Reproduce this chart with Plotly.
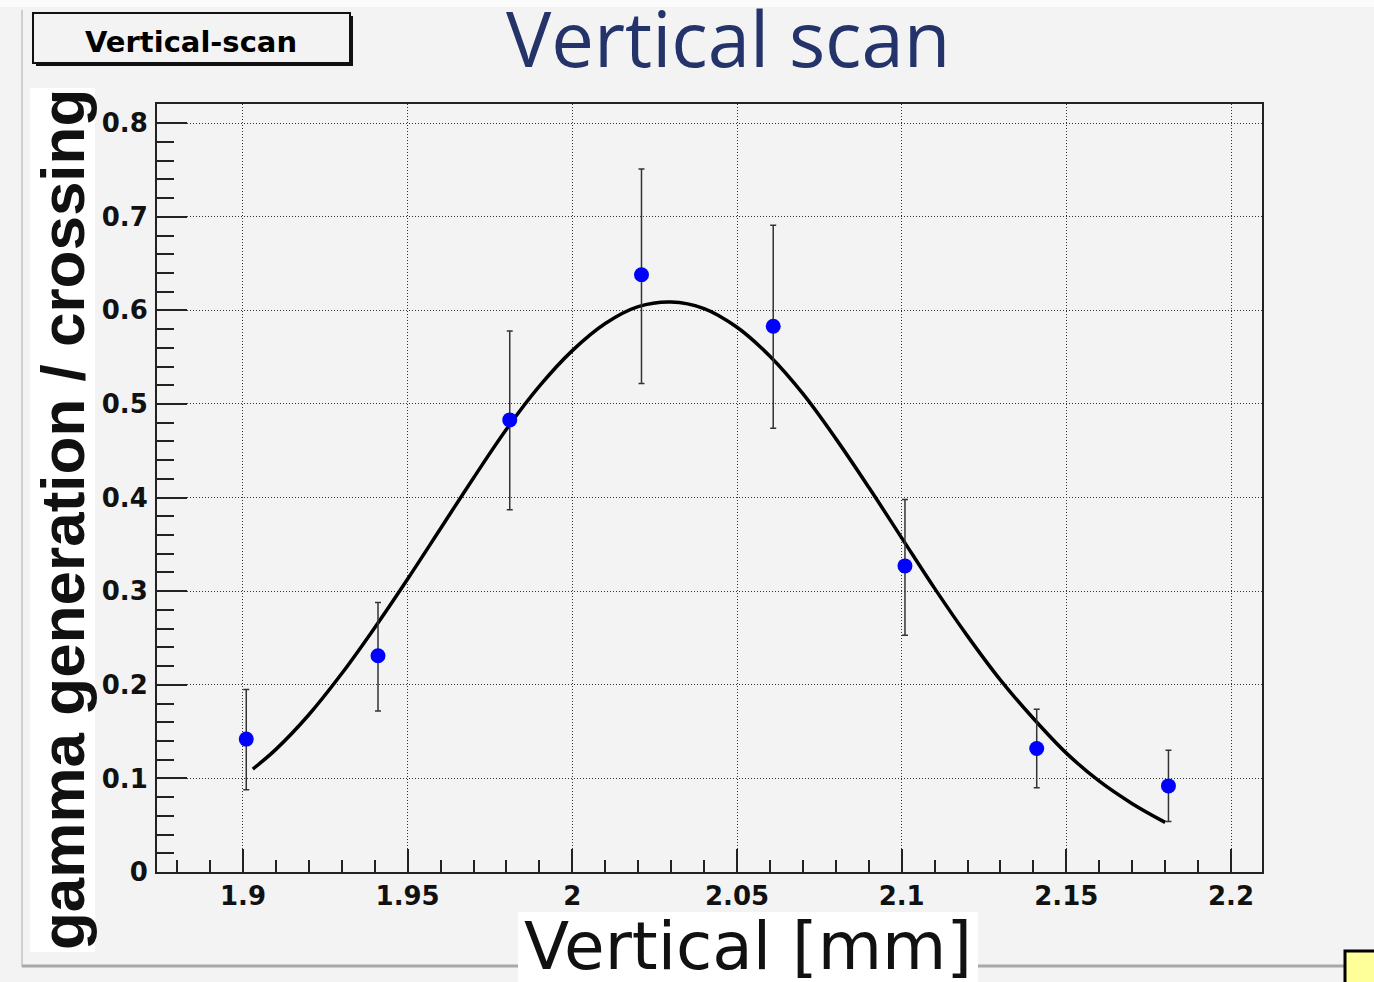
import plotly.graph_objects as go

# ---------------- data ----------------
x_pos = [1.901, 1.941, 1.981, 2.021, 2.061, 2.101, 2.141, 2.181]
gamma = [0.142, 0.231, 0.483, 0.638, 0.583, 0.327, 0.132, 0.092]
err_plus = [0.053, 0.057, 0.095, 0.113, 0.108, 0.071, 0.042, 0.038]
err_minus = [0.054, 0.059, 0.096, 0.116, 0.109, 0.074, 0.042, 0.038]

fit_x = [1.903, 1.91, 1.92, 1.93, 1.94, 1.95, 1.96, 1.97, 1.98, 1.99, 2.00,
         2.01, 2.02, 2.03, 2.04, 2.05, 2.06, 2.07, 2.08, 2.09, 2.10,
         2.11, 2.12, 2.13, 2.14, 2.15, 2.16, 2.17, 2.18]
fit_y = [0.110, 0.131, 0.168, 0.212, 0.261, 0.313, 0.367, 0.421, 0.473, 0.519, 0.557,
         0.586, 0.604, 0.609, 0.602, 0.582, 0.551, 0.511, 0.463, 0.411, 0.357,
         0.303, 0.252, 0.205, 0.164, 0.127, 0.097, 0.073, 0.053]

x_ticks = [1.9, 1.95, 2.0, 2.05, 2.1, 2.15, 2.2]
x_tick_labels = ["1.9", "1.95", "2", "2.05", "2.1", "2.15", "2.2"]
y_ticks = [0, 0.1, 0.2, 0.3, 0.4, 0.5, 0.6, 0.7, 0.8]
y_tick_labels = ["0", "0.1", "0.2", "0.3", "0.4", "0.5", "0.6", "0.7", "0.8"]

title_text = "Vertical scan"
box_text = "Vertical-scan"
x_title = "Vertical [mm]"
y_title = "gamma generation / crossing"

# ---------------- layout geometry ----------------
W, H = 1374, 982
L, R, T, B = 157, 1262, 104, 872
BG = "#f3f3f3"


def px(xp):
    return (xp - L) / (R - L)


def py(yp):
    return (B - yp) / (B - T)


fig = go.Figure()

fig.add_trace(go.Scatter(
    x=fit_x, y=fit_y, mode="lines", line=dict(color="black", width=3.5, shape="spline"),
    showlegend=False, hoverinfo="skip"))

fig.add_trace(go.Scatter(
    x=x_pos, y=gamma, mode="markers",
    marker=dict(color="#0000ff", size=15, line=dict(width=0)),
    error_y=dict(type="data", symmetric=False, array=err_plus, arrayminus=err_minus,
                 color="#333333", thickness=1.5, width=3),
    showlegend=False))

xtickfont = dict(family="DejaVu Sans", size=26, color="#111", weight="bold")
ytickfont = dict(family="DejaVu Sans", size=26, color="#111", weight="bold")
grid_dash = "1px,2px"

fig.update_xaxes(
    range=[1.8739, 2.2094], tickvals=x_ticks, ticktext=x_tick_labels,
    ticks="inside", ticklen=23, tickwidth=1.5, tickcolor="#222",
    minor=dict(ticks="inside", ticklen=12, tickwidth=1.5, tickcolor="#222",
               dtick=0.01, tick0=1.9, showgrid=False),
    showgrid=True, gridcolor="#333", gridwidth=1, griddash=grid_dash,
    showline=True, linecolor="#222", linewidth=2, mirror=True,
    zeroline=False, tickfont=xtickfont, ticklabelstandoff=0)

fig.update_yaxes(
    range=[0, 0.8205], tickvals=y_ticks, ticktext=y_tick_labels,
    ticks="inside", ticklen=30, tickwidth=1.5, tickcolor="#222",
    minor=dict(ticks="inside", ticklen=17, tickwidth=1.5, tickcolor="#222",
               dtick=0.02, tick0=0, showgrid=False),
    showgrid=True, gridcolor="#333", gridwidth=1, griddash=grid_dash,
    showline=True, linecolor="#222", linewidth=2, mirror=True,
    zeroline=False, tickfont=ytickfont, ticklabelstandoff=2)

shapes = []
# top light band
shapes.append(dict(type="rect", xref="paper", yref="paper", x0=px(0), x1=px(W), y0=py(7), y1=py(0),
                   fillcolor="#fbfbfb", line=dict(width=0), layer="below"))
# canvas frame lines
shapes.append(dict(type="line", xref="paper", yref="paper", x0=px(22), x1=px(22), y0=py(967), y1=py(10),
                   line=dict(color="#cfcfcf", width=2)))
shapes.append(dict(type="line", xref="paper", yref="paper", x0=px(22), x1=px(1345), y0=py(966), y1=py(966),
                   line=dict(color="#a8a8a8", width=3)))
# legend-ish box with shadow
shapes.append(dict(type="rect", xref="paper", yref="paper", x0=px(36), x1=px(353), y0=py(66), y1=py(16),
                   fillcolor="#111", line=dict(width=0)))
shapes.append(dict(type="rect", xref="paper", yref="paper", x0=px(33), x1=px(350), y0=py(63), y1=py(13),
                   fillcolor=BG, line=dict(color="#111", width=2)))
# white boxes behind axis titles
shapes.append(dict(type="rect", xref="paper", yref="paper", x0=px(30), x1=px(95), y0=py(952), y1=py(88),
                   fillcolor="white", line=dict(width=0)))
shapes.append(dict(type="rect", xref="paper", yref="paper", x0=px(518), x1=px(978), y0=py(985), y1=py(912),
                   fillcolor="white", line=dict(width=0)))
# small yellow box at bottom right
shapes.append(dict(type="rect", xref="paper", yref="paper", x0=px(1345), x1=px(1380), y0=py(990), y1=py(951),
                   fillcolor="#ffff99", line=dict(color="black", width=3)))

annotations = [
    dict(text=title_text, xref="paper", yref="paper", x=px(728), y=py(37),
         xanchor="center", yanchor="middle", showarrow=False,
         font=dict(family="Open Sans", size=76, color="#24346a")),
    dict(text=box_text, xref="paper", yref="paper", x=px(191), y=py(42),
         xanchor="center", yanchor="middle", showarrow=False,
         font=dict(family="DejaVu Sans", size=29, color="black", weight="bold")),
    dict(text=x_title, xref="paper", yref="paper", x=px(748), y=py(946),
         xanchor="center", yanchor="middle", showarrow=False,
         font=dict(family="DejaVu Sans", size=66, color="#111")),
    dict(text=y_title, xref="paper", yref="paper", x=px(62), y=py(520),
         xanchor="center", yanchor="middle", showarrow=False, textangle=-90,
         font=dict(family="Liberation Sans", size=62, color="#111", weight="bold")),
]

fig.update_layout(
    width=W, height=H, margin=dict(l=L, r=W - R, t=T, b=H - B, pad=0),
    paper_bgcolor=BG, plot_bgcolor=BG, shapes=shapes, annotations=annotations,
    showlegend=False)

fig.write_html("out.html")
